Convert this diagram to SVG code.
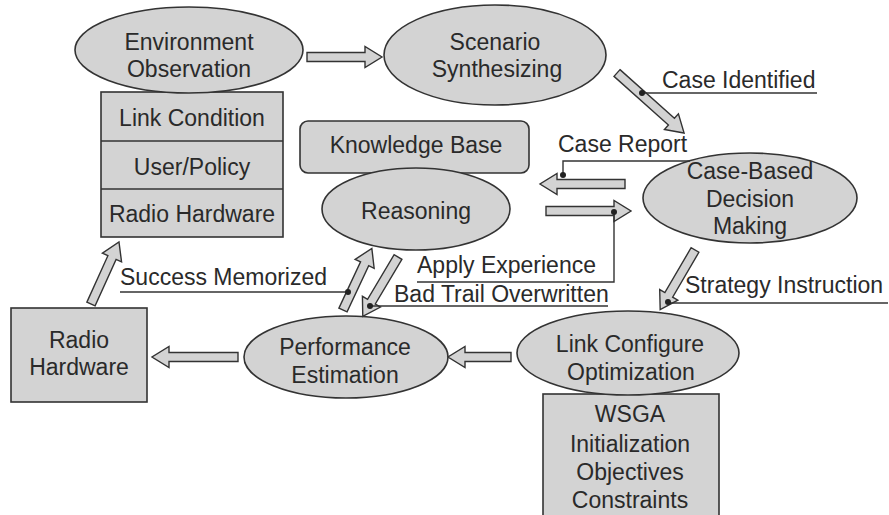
<svg xmlns="http://www.w3.org/2000/svg" width="889" height="515" viewBox="0 0 889 515">
<style>
.n{fill:#d3d3d3;stroke:#333;stroke-width:1.6}
.a{fill:#d3d3d3;stroke:#333;stroke-width:1.4;stroke-linejoin:miter}
.l{fill:none;stroke:#333;stroke-width:1.4}
.d{fill:#222}
text{font-family:"Liberation Sans",Arial,sans-serif;font-size:23px;fill:#2a2a2a}
.c{text-anchor:middle}
</style>
<rect width="889" height="515" fill="#fff"/>
<g id="env-box">
<rect class="n" x="101" y="92" width="182" height="145"/>
<line class="l" x1="101" y1="141" x2="283" y2="141"/>
<line class="l" x1="101" y1="189" x2="283" y2="189"/>
<text class="c" x="192" y="126">Link Condition</text>
<text class="c" x="192" y="175">User/Policy</text>
<text class="c" x="192" y="222">Radio Hardware</text>
</g>
<g id="env">
<ellipse class="n" cx="189" cy="50" rx="114" ry="43"/>
<text class="c" x="189" y="50">Environment</text>
<text class="c" x="189" y="77">Observation</text>
</g>
<g id="scenario">
<ellipse class="n" cx="495" cy="55" rx="111" ry="50"/>
<text class="c" x="495" y="50">Scenario</text>
<text class="c" x="497" y="77">Synthesizing</text>
</g>
<g id="kb">
<rect class="n" x="300" y="121" width="229" height="52" rx="8"/>
<text class="c" x="416" y="153">Knowledge Base</text>
</g>
<g id="reasoning">
<ellipse class="n" cx="416" cy="209" rx="94" ry="41"/>
<text class="c" x="416" y="219">Reasoning</text>
</g>
<g id="cbdm">
<ellipse class="n" cx="750" cy="198" rx="107" ry="45"/>
<text class="c" x="750" y="179">Case-Based</text>
<text class="c" x="750" y="207">Decision</text>
<text class="c" x="750" y="234">Making</text>
</g>
<g id="wsga">
<rect class="n" x="543" y="394" width="176" height="130"/>
<text class="c" x="630" y="422">WSGA</text>
<text class="c" x="630" y="452">Initialization</text>
<text class="c" x="630" y="480">Objectives</text>
<text class="c" x="630" y="508">Constraints</text>
</g>
<g id="lco">
<ellipse class="n" cx="628" cy="353" rx="111" ry="42"/>
<text class="c" x="630" y="352">Link Configure</text>
<text class="c" x="631" y="380">Optimization</text>
</g>
<g id="perf">
<ellipse class="n" cx="346" cy="357" rx="102" ry="41"/>
<text class="c" x="345" y="355">Performance</text>
<text class="c" x="345" y="383">Estimation</text>
</g>
<g id="radio">
<rect class="n" x="11" y="308" width="136" height="94"/>
<text class="c" x="79" y="348">Radio</text>
<text class="c" x="79" y="375">Hardware</text>
</g>
<g id="connectors">
<polygon class="a" transform="translate(307,57)" points="0,-4.5 58,-4.5 58,-10.5 75,0 58,10.5 58,4.5 0,4.5"/>
<polygon class="a" transform="translate(625,184) rotate(180)" points="0,-4.5 68,-4.5 68,-10.5 85,0 68,10.5 68,4.5 0,4.5"/>
<polygon class="a" transform="translate(546,211)" points="0,-4.5 68,-4.5 68,-10.5 85,0 68,10.5 68,4.5 0,4.5"/>
<polygon class="a" transform="translate(511,357) rotate(180)" points="0,-4.5 46,-4.5 46,-10.5 63,0 46,10.5 46,4.5 0,4.5"/>
<polygon class="a" transform="translate(238,357) rotate(180)" points="0,-4.5 69,-4.5 69,-10.5 86,0 69,10.5 69,4.5 0,4.5"/>
<polygon class="a" transform="translate(617,73) rotate(41.8)" points="0,-4.5 73,-4.5 73,-10.5 90,0 73,10.5 73,4.5 0,4.5"/>
<polygon class="a" transform="translate(695,250) rotate(120.3)" points="0,-4.5 52,-4.5 52,-10.5 69,0 52,10.5 52,4.5 0,4.5"/>
<polygon class="a" transform="translate(91,304) rotate(-65.7)" points="0,-4.5 51,-4.5 51,-10.5 68,0 51,10.5 51,4.5 0,4.5"/>
<polygon class="a" transform="translate(343,310) rotate(-64.9)" points="0,-4.5 51,-4.5 51,-10.5 68,0 51,10.5 51,4.5 0,4.5"/>
<polygon class="a" transform="translate(398,257) rotate(120.7)" points="0,-4.5 52,-4.5 52,-10.5 69,0 52,10.5 52,4.5 0,4.5"/>
<path class="l" d="M642,93 H817"/>
<circle class="d" cx="642" cy="93" r="3"/>
<path class="l" d="M563,175 V161 H690"/>
<circle class="d" cx="563" cy="175" r="3"/>
<path class="l" d="M614,212 V282 H417"/>
<circle class="d" cx="614" cy="212" r="3"/>
<path class="l" d="M370,306 H608"/>
<circle class="d" cx="370" cy="306" r="3"/>
<path class="l" d="M120,292 H348"/>
<circle class="d" cx="348" cy="292" r="3"/>
<path class="l" d="M668,303 H888"/>
<circle class="d" cx="668" cy="302" r="3"/>
</g>
<g id="labels">
<text x="662" y="88">Case Identified</text>
<text x="558" y="152">Case Report</text>
<text x="417" y="273">Apply Experience</text>
<text x="394" y="302">Bad Trail Overwritten</text>
<text x="120" y="285">Success Memorized</text>
<text x="685" y="293">Strategy Instruction</text>
</g>
</svg>
